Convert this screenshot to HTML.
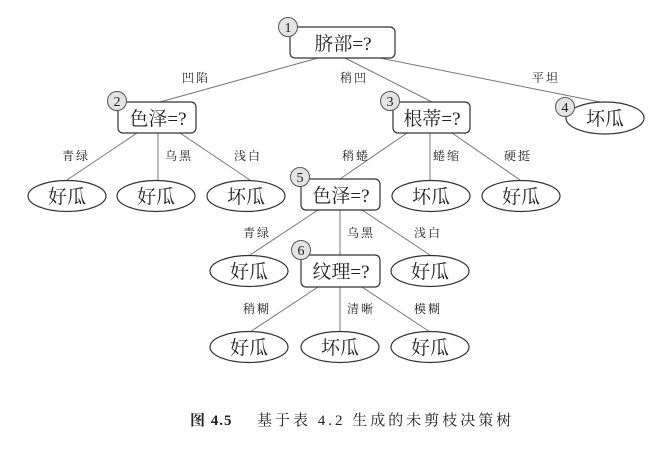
<!DOCTYPE html>
<html><head><meta charset="utf-8"><style>
html,body{margin:0;padding:0;background:#fff;}
svg{display:block;}
text{font-family:"Liberation Serif","Noto Serif CJK SC",serif;fill:#222;}
.n{font-size:19px;}
.l{font-size:12px;letter-spacing:2px;}
.c{font-size:14px;}
</style></head><body>
<svg width="658" height="452" viewBox="0 0 658 452">
<g stroke="#777" stroke-width="1" fill="none">
<line x1="318" y1="58" x2="160" y2="102"/>
<line x1="345" y1="58" x2="432" y2="102"/>
<line x1="380" y1="58" x2="600" y2="102"/>
<line x1="137" y1="133" x2="67" y2="180"/>
<line x1="158" y1="133" x2="158" y2="180"/>
<line x1="180" y1="133" x2="250" y2="180"/>
<line x1="407" y1="133" x2="340" y2="179"/>
<line x1="430" y1="133" x2="430" y2="180"/>
<line x1="452" y1="133" x2="520" y2="180"/>
<line x1="318" y1="210" x2="250" y2="255"/>
<line x1="340" y1="210" x2="340" y2="255"/>
<line x1="362" y1="210" x2="430" y2="255"/>
<line x1="318" y1="287" x2="250" y2="332"/>
<line x1="340" y1="287" x2="340" y2="332"/>
<line x1="362" y1="287" x2="430" y2="332"/>
</g>
<g stroke="#333" stroke-width="1.2" fill="#fff">
<rect x="290" y="27" width="105" height="31" rx="5"/>
<rect x="118" y="102" width="78" height="31" rx="5"/>
<rect x="393" y="102" width="77" height="31" rx="5"/>
<rect x="301" y="179" width="79" height="31" rx="5"/>
<rect x="301" y="255" width="79" height="32" rx="5"/>
<ellipse cx="605" cy="118" rx="39" ry="16"/>
<ellipse cx="67" cy="196" rx="39" ry="15.5"/>
<ellipse cx="156" cy="196" rx="39" ry="15.5"/>
<ellipse cx="246" cy="196" rx="39" ry="15.5"/>
<ellipse cx="431" cy="196" rx="39" ry="15.5"/>
<ellipse cx="521" cy="196" rx="39" ry="15.5"/>
<ellipse cx="249" cy="271" rx="39" ry="15.5"/>
<ellipse cx="430" cy="271" rx="39" ry="15.5"/>
<ellipse cx="249" cy="347" rx="39" ry="15.5"/>
<ellipse cx="340" cy="347" rx="39" ry="15.5"/>
<ellipse cx="430" cy="347" rx="39" ry="15.5"/>
</g>
<g stroke="#555" stroke-width="1" fill="#e4e4e4">
<circle cx="288" cy="27" r="9.5"/>
<circle cx="117" cy="101" r="9.5"/>
<circle cx="390" cy="101" r="9.5"/>
<circle cx="565" cy="107" r="9.5"/>
<circle cx="300" cy="177" r="9.5"/>
<circle cx="301" cy="250" r="9.5"/>
</g>
<g class="c" text-anchor="middle">
<text x="288" y="32">1</text><text x="117" y="106">2</text><text x="390" y="106">3</text>
<text x="565" y="112">4</text><text x="300" y="182">5</text><text x="301" y="255">6</text>
</g>
<g class="n" text-anchor="middle">
<text x="343" y="50">脐部=?</text>
<text x="158" y="125">色泽=?</text>
<text x="432" y="125">根蒂=?</text>
<text x="341" y="202">色泽=?</text>
<text x="341" y="278">纹理=?</text>
<text x="605" y="125">坏瓜</text>
<text x="67" y="203">好瓜</text>
<text x="156" y="203">好瓜</text>
<text x="246" y="203">坏瓜</text>
<text x="431" y="203">坏瓜</text>
<text x="521" y="203">好瓜</text>
<text x="249" y="278">好瓜</text>
<text x="430" y="278">好瓜</text>
<text x="249" y="354">好瓜</text>
<text x="340" y="354">坏瓜</text>
<text x="430" y="354">好瓜</text>
</g>
<g class="l" text-anchor="middle">
<text x="196" y="82">凹陷</text><text x="354" y="82">稍凹</text><text x="546" y="82">平坦</text>
<text x="76" y="160">青绿</text><text x="179" y="160">乌黑</text><text x="248" y="160">浅白</text>
<text x="356" y="160">稍蜷</text><text x="447" y="160">蜷缩</text><text x="518" y="160">硬挺</text>
<text x="257" y="237">青绿</text><text x="361" y="237">乌黑</text><text x="428" y="237">浅白</text>
<text x="257" y="313">稍糊</text><text x="361" y="313">清晰</text><text x="428" y="313">模糊</text>
</g>
<text x="190" y="425" style="font-size:15px;font-weight:bold;letter-spacing:1px">图 4.5</text>
<text x="257" y="425" style="font-size:15px;letter-spacing:3px">基于表 4.2 生成的未剪枝决策树</text>
</svg>
</body></html>
